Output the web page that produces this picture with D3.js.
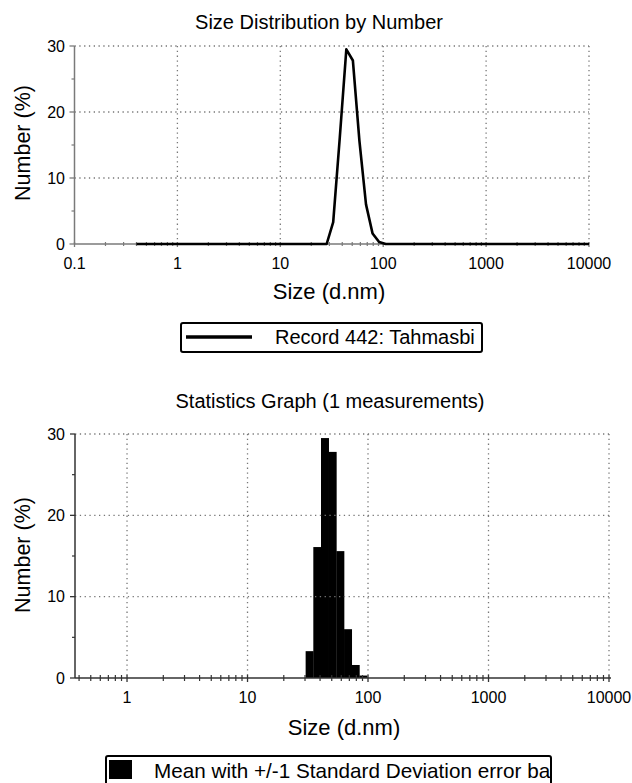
<!DOCTYPE html>
<html>
<head>
<meta charset="utf-8">
<script src="https://cdn.jsdelivr.net/npm/d3@7"></script>
<style>
  body { margin: 0; background: #fff; }
  text { font-family: "Liberation Sans", Arial, sans-serif; fill: #000; }
</style>
</head>
<body>
<div id="chart"></div>
<script>
// size classes (d.nm)
var sizes = [0.4, 0.4632, 0.5365, 0.6213, 0.7195, 0.8332, 0.9649, 1.117, 1.294, 1.499,
  1.736, 2.010, 2.328, 2.696, 3.122, 3.615, 4.187, 4.849, 5.615, 6.503,
  7.531, 8.721, 10.10, 11.70, 13.54, 15.69, 18.17, 21.04, 24.36, 28.21,
  32.67, 37.84, 43.82, 50.75, 58.77, 68.06, 78.82, 91.28, 105.7, 122.4,
  141.8, 164.2, 190.1, 220.2, 255.0, 295.3, 342.0, 396.1, 458.7, 531.2,
  615.1, 712.4, 825.0, 955.4, 1106, 1281, 1484, 1718, 1990, 2305,
  2669, 3091, 3580, 4145, 4801, 5560, 6439, 7456, 8635, 10000];

// number (%) per size class
var numberPct = [0, 0, 0, 0, 0, 0, 0, 0, 0, 0,
  0, 0, 0, 0, 0, 0, 0, 0, 0, 0,
  0, 0, 0, 0, 0, 0, 0, 0, 0, 0,
  3.3, 16.1, 29.5, 27.8, 15.6, 6.0, 1.6, 0.3, 0, 0,
  0, 0, 0, 0, 0, 0, 0, 0, 0, 0,
  0, 0, 0, 0, 0, 0, 0, 0, 0, 0,
  0, 0, 0, 0, 0, 0, 0, 0, 0, 0];

var xTicksTop = [0.1, 1, 10, 100, 1000, 10000];
var xTicksBottom = [1, 10, 100, 1000, 10000];
var yTicks = [0, 10, 20, 30];
var yMinor = [5, 15, 25];

var svg = d3.select("#chart")
  .append("svg")
    .attr("width", 632)
    .attr("height", 783);

function minorTicks(lo, hi) {
  var out = [];
  for (var e = -2; e <= 4; e++) {
    for (var m = 2; m <= 9; m++) {
      var v = m * Math.pow(10, e);
      if (v > lo && v < hi) out.push(v);
    }
  }
  return out;
}

function drawFrame(x, y, xTicks, opts) {
  var g = svg.append("g");
  var x0 = x.range()[0], x1 = x.range()[1];
  var gridRight = x(xTicks[xTicks.length - 1]);

  // dotted grid
  g.selectAll(".hgrid")
    .data(yTicks.filter(function(d) { return d > 0; }))
    .enter().append("line")
      .attr("x1", x0).attr("x2", gridRight)
      .attr("y1", function(d) { return y(d); })
      .attr("y2", function(d) { return y(d); })
      .attr("stroke", "#777").attr("stroke-width", 1.3)
      .attr("stroke-dasharray", "1.3,3.5");
  g.selectAll(".vgrid")
    .data(xTicks.filter(function(d) { return x(d) > x0 + 2; }))
    .enter().append("line")
      .attr("x1", function(d) { return x(d); })
      .attr("x2", function(d) { return x(d); })
      .attr("y1", y(30)).attr("y2", y(0))
      .attr("stroke", "#777").attr("stroke-width", 1.3)
      .attr("stroke-dasharray", "1.3,3.5");

  // x axis
  g.append("line")
    .attr("x1", x0).attr("x2", x1)
    .attr("y1", y(0)).attr("y2", y(0))
    .attr("stroke", opts.axisColor).attr("stroke-width", 1.5);
  g.selectAll(".xminor")
    .data(minorTicks(x.domain()[0], x.domain()[1]))
    .enter().append("line")
      .attr("x1", function(d) { return x(d); })
      .attr("x2", function(d) { return x(d); })
      .attr("y1", y(0) - opts.tick).attr("y2", y(0) + opts.tick)
      .attr("stroke", opts.axisColor).attr("stroke-width", 1.2);
  g.selectAll(".xmajor")
    .data(xTicks)
    .enter().append("line")
      .attr("x1", function(d) { return x(d); })
      .attr("x2", function(d) { return x(d); })
      .attr("y1", y(0) - opts.tick).attr("y2", y(0) + opts.tick + 1)
      .attr("stroke", opts.axisColor).attr("stroke-width", 1.3);
  g.selectAll(".xlab")
    .data(xTicks)
    .enter().append("text")
      .attr("x", function(d) { return x(d); })
      .attr("y", opts.xLabY)
      .attr("text-anchor", "middle")
      .style("font-size", "16px")
      .text(function(d) { return d; });

  // y axis
  g.append("line")
    .attr("x1", x0).attr("x2", x0)
    .attr("y1", y(30)).attr("y2", y(0))
    .attr("stroke", opts.axisColor).attr("stroke-width", 1.5);
  g.selectAll(".ymajor")
    .data(yTicks)
    .enter().append("line")
      .attr("x1", x0 - 5).attr("x2", x0)
      .attr("y1", function(d) { return y(d); })
      .attr("y2", function(d) { return y(d); })
      .attr("stroke", opts.axisColor).attr("stroke-width", 1.3);
  g.selectAll(".yminor")
    .data(yMinor)
    .enter().append("line")
      .attr("x1", x0 - 3).attr("x2", x0)
      .attr("y1", function(d) { return y(d); })
      .attr("y2", function(d) { return y(d); })
      .attr("stroke", opts.axisColor).attr("stroke-width", 1.2);
  g.selectAll(".ylab")
    .data(yTicks)
    .enter().append("text")
      .attr("x", 65)
      .attr("y", function(d) { return y(d); })
      .attr("dy", "0.36em")
      .attr("text-anchor", "end")
      .style("font-size", "16px")
      .text(function(d) { return d; });

  // titles
  svg.append("text")
    .attr("x", opts.titleX).attr("y", opts.titleY)
    .attr("text-anchor", "middle")
    .style("font-size", "20px")
    .text(opts.title);
  svg.append("text")
    .attr("x", opts.xTitleX).attr("y", opts.xTitleY)
    .attr("text-anchor", "middle")
    .style("font-size", "22px")
    .text("Size (d.nm)");
  svg.append("text")
    .attr("transform", "translate(" + 30 + "," + opts.yTitleY + ")rotate(-90)")
    .attr("text-anchor", "middle")
    .style("font-size", "21.5px")
    .text("Number (%)");
}

// ---------- top chart: size distribution line ----------
var xTop = d3.scaleLog().domain([0.1, 10000]).range([74.5, 589]);
var yTop = d3.scaleLinear().domain([0, 30]).range([244, 46]);

drawFrame(xTop, yTop, xTicksTop, {
  axisColor: "#7a7a7a", tick: 2, xLabY: 269,
  title: "Size Distribution by Number", titleX: 319, titleY: 29,
  xTitleX: 329, xTitleY: 299, yTitleY: 143
});

var line = d3.line()
  .x(function(d, i) { return xTop(sizes[i]); })
  .y(function(d) { return yTop(d); });

svg.append("path")
  .datum(numberPct)
  .attr("d", line)
  .attr("fill", "none")
  .attr("stroke", "#000")
  .attr("stroke-width", 2.6)
  .attr("stroke-linejoin", "round");

// legend 1
svg.append("rect")
  .attr("x", 181).attr("y", 323).attr("width", 301).attr("height", 29)
  .attr("rx", 2).attr("fill", "#fff").attr("stroke", "#000").attr("stroke-width", 2);
svg.append("line")
  .attr("x1", 186).attr("x2", 252).attr("y1", 337).attr("y2", 337)
  .attr("stroke", "#000").attr("stroke-width", 3.5);
svg.append("text")
  .attr("x", 275).attr("y", 344)
  .style("font-size", "20px")
  .text("Record 442: Tahmasbi");

// ---------- bottom chart: statistics bars ----------
var xBot = d3.scaleLog().domain([0.37, 10390]).range([75, 611]);
var yBot = d3.scaleLinear().domain([0, 30]).range([678, 434]);

var bars = sizes.map(function(s, i) {
  var lo = i > 0 ? Math.sqrt(sizes[i - 1] * s) : s;
  var hi = i < sizes.length - 1 ? Math.sqrt(sizes[i + 1] * s) : s;
  return { lo: lo, hi: hi, v: numberPct[i] };
}).filter(function(d) { return d.v > 0; });

svg.append("g").selectAll("rect")
  .data(bars)
  .enter()
  .append("rect")
    .attr("x", function(d) { return xBot(d.lo); })
    .attr("y", function(d) { return yBot(d.v); })
    .attr("width", function(d) { return xBot(d.hi) - xBot(d.lo) + 0.3; })
    .attr("height", function(d) { return yBot(0) - yBot(d.v); })
    .attr("fill", "#000");

drawFrame(xBot, yBot, xTicksBottom, {
  axisColor: "#333", tick: 3, xLabY: 703,
  title: "Statistics Graph (1 measurements)", titleX: 330, titleY: 408,
  xTitleX: 344, xTitleY: 735, yTitleY: 555
});

// legend 2
svg.append("clipPath").attr("id", "legclip")
  .append("rect").attr("x", 106).attr("y", 750).attr("width", 444).attr("height", 40);
svg.append("rect")
  .attr("x", 106).attr("y", 756).attr("width", 445).attr("height", 40)
  .attr("rx", 2).attr("fill", "#fff").attr("stroke", "#000").attr("stroke-width", 2);
svg.append("rect")
  .attr("x", 109).attr("y", 760).attr("width", 23).attr("height", 19)
  .attr("fill", "#000");
svg.append("text")
  .attr("x", 154).attr("y", 778)
  .attr("clip-path", "url(#legclip)")
  .style("font-size", "20.7px")
  .text("Mean with +/-1 Standard Deviation error bar");
</script>
</body>
</html>
